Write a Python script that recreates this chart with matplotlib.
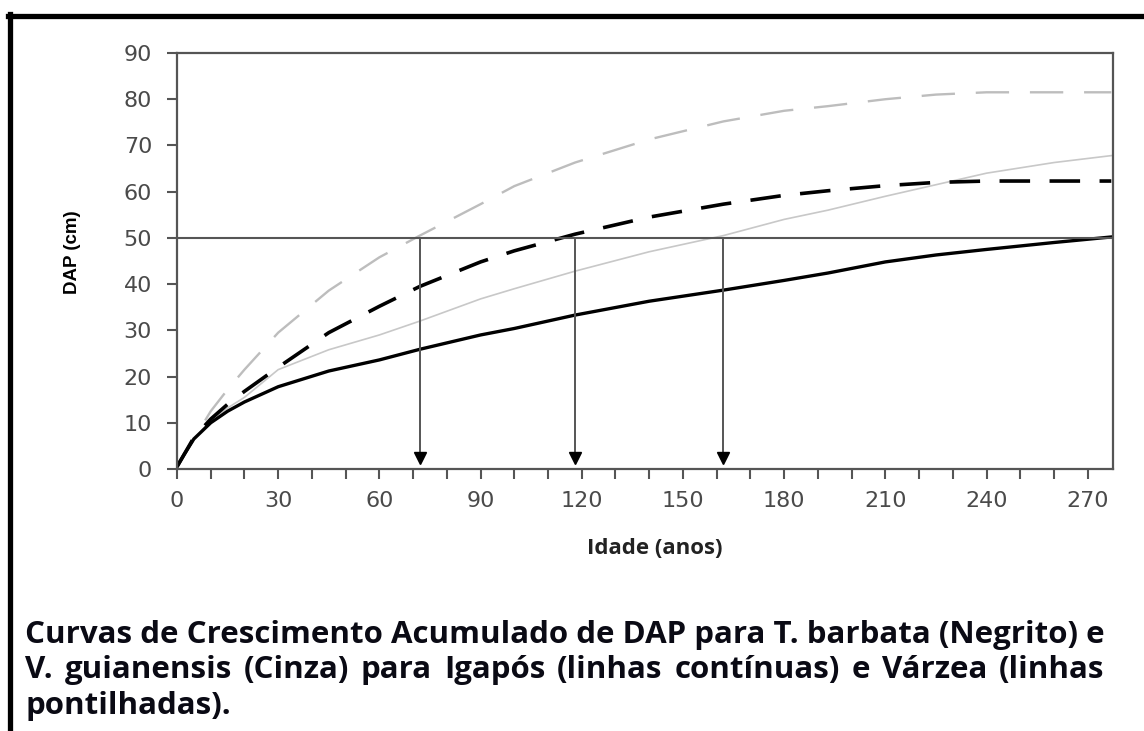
import numpy as np
import matplotlib
matplotlib.use("Agg")
import matplotlib.pyplot as plt
from matplotlib.lines import Line2D
from matplotlib.ticker import MultipleLocator

# idade (anos) e DAP (cm)
idade = [0, 2, 5, 10, 15, 20, 30, 45, 60, 72, 90, 100, 118, 140, 162, 180, 193, 210, 225, 240, 260, 277]
barbata_igapo = [0.5, 3, 6.5, 10, 12.5, 14.5, 17.8, 21.2, 23.6, 25.9, 29, 30.4, 33.3, 36.3, 38.7,
                 40.8, 42.4, 44.8, 46.3, 47.5, 49, 50.2]
barbata_varzea = [0.5, 3, 6.8, 10.8, 14, 16.8, 22, 29.5, 35.2, 39.5, 44.8, 47.2, 50.8, 54.5, 57.3,
                  59.2, 60.2, 61.3, 62, 62.3, 62.3, 62.3]
guianensis_igapo = [0.5, 3, 6.5, 10.5, 13.2, 15.5, 21.5, 25.8, 29, 32, 36.8, 39, 42.8, 47, 50.5,
                    54, 56, 59, 61.5, 64, 66.3, 67.8]
guianensis_varzea = [0.5, 3, 6.5, 12.5, 17.2, 21.5, 29.5, 38.6, 45.8, 50.5, 57.3, 61.2, 66.3, 71.3, 75.2,
                     77.5, 78.5, 80, 81, 81.5, 81.5, 81.5]

dap_ref = 50
idade_setas = [72, 118, 162]

linha1 = "Curvas de Crescimento Acumulado de DAP para T. barbata (Negrito) e"
linha2 = "V. guianensis (Cinza) para Igapós (linhas contínuas) e Várzea (linhas"
linha3 = "pontilhadas)."

plt.rcParams['lines.scale_dashes'] = False
W, H = 1144, 731
fig = plt.figure(figsize=(W / 100, H / 100), dpi=100)
ax = fig.add_axes([177 / W, 1 - 469 / H, (1113 - 177) / W, (469 - 53) / H])

cinza = '#555555'
ax.plot(idade, guianensis_varzea, color='#bdbdbd', lw=1.7, dashes=(24, 15))
ax.plot(idade, guianensis_igapo, color='#c8c8c8', lw=1.2)
ax.plot(idade, barbata_varzea, color='black', lw=2.6, dashes=(22, 14))
ax.plot(idade, barbata_igapo, color='black', lw=2.4)

ax.axhline(dap_ref, color=cinza, lw=1.5)
for xs in idade_setas:
    ax.plot([xs, xs], [dap_ref, 2], color=cinza, lw=1.4)
    ax.plot(xs, 2.3, marker='v', color='black', markersize=9, ls='none')

ax.set_xlim(0, 277.5)
ax.set_ylim(0, 90)
ax.xaxis.set_major_locator(MultipleLocator(30))
ax.xaxis.set_minor_locator(MultipleLocator(10))
ax.yaxis.set_major_locator(MultipleLocator(10))
for s in ax.spines.values():
    s.set_color(cinza)
    s.set_linewidth(1.6)
ax.tick_params(axis='both', which='both', direction='out', length=7, width=1.5, color=cinza,
               labelsize=16, labelcolor='#4a4a4a')
ax.tick_params(axis='y', pad=11)
ax.tick_params(axis='x', pad=9)
for lab in ax.get_xticklabels() + ax.get_yticklabels():
    lab.set_family('DejaVu Sans')

ax.set_xlabel("Idade (anos)", fontsize=16, fontweight='bold', family=['Open Sans', 'DejaVu Sans'],
              color='#222222')
ax.xaxis.set_label_coords(0.51, -0.166)
ax.set_ylabel("DAP (cm)", fontsize=13.5, fontweight='bold', family=['Liberation Sans', 'DejaVu Sans'])
ax.yaxis.set_label_coords(-0.103, 0.52)

# moldura preta externa
fig.add_artist(Line2D([10 / W, 10 / W], [0, 1 - 14 / H], color='black', lw=3.8, transform=fig.transFigure))
fig.add_artist(Line2D([8 / W, 1], [1 - 16 / H, 1 - 16 / H], color='black', lw=3.8, transform=fig.transFigure))

# legenda em texto justificado
cap = dict(fontsize=22.5, fontweight='bold', family=['Open Sans', 'DejaVu Sans'], color='#0a0a14', va='baseline')
x0 = 25 / W
t1 = fig.text(x0, 1 - 643 / H, linha1, **cap)
fig.text(x0, 1 - 714 / H, linha3, **cap)
fig.canvas.draw()
r = fig.canvas.get_renderer()
largura = t1.get_window_extent(r).width
palavras = linha2.split(" ")
objs = [fig.text(0, 1 - 678 / H, p, **cap) for p in palavras]
larg = [o.get_window_extent(r).width for o in objs]
gap = (largura - sum(larg)) / (len(palavras) - 1)
xpix = x0 * W
for o, w in zip(objs, larg):
    o.set_x(xpix / W)
    xpix += w + gap

fig.savefig("out.png", dpi=100)
